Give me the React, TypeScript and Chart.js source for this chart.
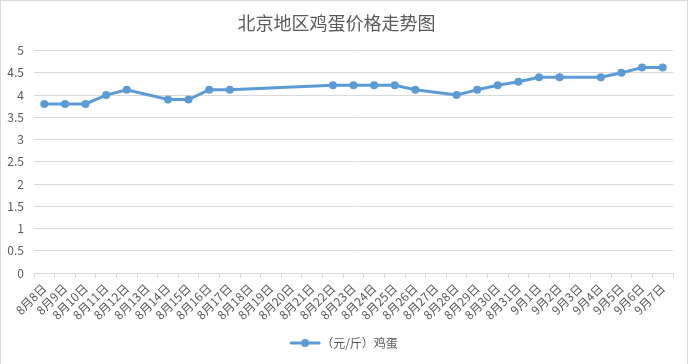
import React, { useEffect, useRef } from "react";
import { Chart, registerables } from "chart.js";

Chart.register(...registerables);

const chartTitle = "北京地区鸡蛋价格走势图";
const seriesLabel = "（元/斤）鸡蛋";
const categories = [
  "8月8日", "8月9日", "8月10日", "8月11日", "8月12日", "8月13日", "8月14日", "8月15日",
  "8月16日", "8月17日", "8月18日", "8月19日", "8月20日", "8月21日", "8月22日", "8月23日",
  "8月24日", "8月25日", "8月26日", "8月27日", "8月28日", "8月29日", "8月30日", "8月31日",
  "9月1日", "9月2日", "9月3日", "9月4日", "9月5日", "9月6日", "9月7日",
];
const eggPrices: (number | null)[] = [
  3.8, 3.8, 3.8, 4.0, 4.12, null, 3.9, 3.9,
  4.12, 4.12, null, null, null, null, 4.22, 4.22,
  4.22, 4.22, 4.12, null, 4.0, 4.12, 4.22, 4.3,
  4.4, 4.4, null, 4.4, 4.5, 4.62, 4.62,
];
const yMin = 0;
const yMax = 5;
const yStep = 0.5;

const FONT = '"Noto Sans CJK SC", "Microsoft YaHei", sans-serif';
const TEXT = "#595959";
const GRID = "#d9d9d9";
const BLUE = "#5b9bd5";

const legendPlugin = {
  id: "excelLegend",
  afterDraw(chart: any) {
    const ctx = chart.ctx;
    const ds = chart.data.datasets[0];
    ctx.save();
    ctx.font = `12px ${FONT}`;
    const tw = ctx.measureText(ds.label).width;
    const lineW = 28;
    const gap = 2;
    const total = lineW + gap + tw;
    const x0 = chart.width / 2 - total / 2;
    const y = 343;
    ctx.strokeStyle = BLUE;
    ctx.lineWidth = 3;
    ctx.lineCap = "round";
    ctx.beginPath();
    ctx.moveTo(x0, y);
    ctx.lineTo(x0 + lineW, y);
    ctx.stroke();
    ctx.fillStyle = BLUE;
    ctx.beginPath();
    ctx.arc(x0 + lineW / 2, y, 4, 0, Math.PI * 2);
    ctx.fill();
    ctx.fillStyle = TEXT;
    ctx.textAlign = "left";
    ctx.textBaseline = "middle";
    ctx.fillText(ds.label, x0 + lineW + gap, y);
    ctx.restore();
  },
};

export default function App() {
  const ref = useRef<HTMLCanvasElement | null>(null);
  useEffect(() => {
    if (!ref.current) return;
    const chart = new Chart(ref.current, {
      type: "line",
      data: {
        labels: categories,
        datasets: [
          {
            label: seriesLabel,
            data: eggPrices,
            borderColor: BLUE,
            backgroundColor: BLUE,
            borderWidth: 3,
            pointRadius: 4,
            pointBorderWidth: 0,
            pointBackgroundColor: BLUE,
            spanGaps: true,
            tension: 0,
          },
        ],
      },
      plugins: [legendPlugin],
      options: {
        responsive: false,
        animation: false,
        layout: { padding: { left: 0, right: 16, top: 0, bottom: 0 } },
        plugins: {
          legend: { display: false },
          tooltip: { enabled: false },
          title: {
            display: true,
            text: chartTitle,
            color: TEXT,
            font: { family: FONT, size: 18, weight: "normal", lineHeight: 1.2 },
            padding: { top: 12, bottom: 17 },
          },
        },
        scales: {
          x: {
            type: "category",
            offset: true,
            afterFit: (scale: any) => {
              scale.height = 91;
            },
            grid: {
              offset: true,
              drawOnChartArea: false,
              drawTicks: true,
              tickLength: 5,
              color: GRID,
            },
            border: { display: true, color: GRID },
            ticks: {
              autoSkip: false,
              minRotation: 45,
              maxRotation: 45,
              padding: 3,
              color: TEXT,
              font: { family: FONT, size: 12 },
            },
          },
          y: {
            min: yMin,
            max: yMax,
            afterFit: (scale: any) => {
              scale.width = 34;
            },
            grid: { color: GRID, drawTicks: false },
            border: { display: false },
            ticks: {
              stepSize: yStep,
              padding: 10,
              color: TEXT,
              font: { family: FONT, size: 12 },
              callback: (value: any) => `${Math.round(Number(value) * 10) / 10}`,
            },
          },
        },
      },
    } as any);
    return () => chart.destroy();
  }, []);

  return (
    <div style={{ position: "absolute", left: 0, top: 0, width: 689, height: 364, background: "#fff" }}>
      <canvas ref={ref} width={689} height={364} style={{ display: "block" }} />
      <div
        style={{
          position: "absolute",
          left: 0,
          top: 0,
          width: 688,
          height: 364,
          boxSizing: "border-box",
          borderTop: "1px solid #d9d9d9",
          borderLeft: "1px solid #d9d9d9",
          borderRight: "1px solid #d9d9d9",
          pointerEvents: "none",
        }}
      />
    </div>
  );
}
